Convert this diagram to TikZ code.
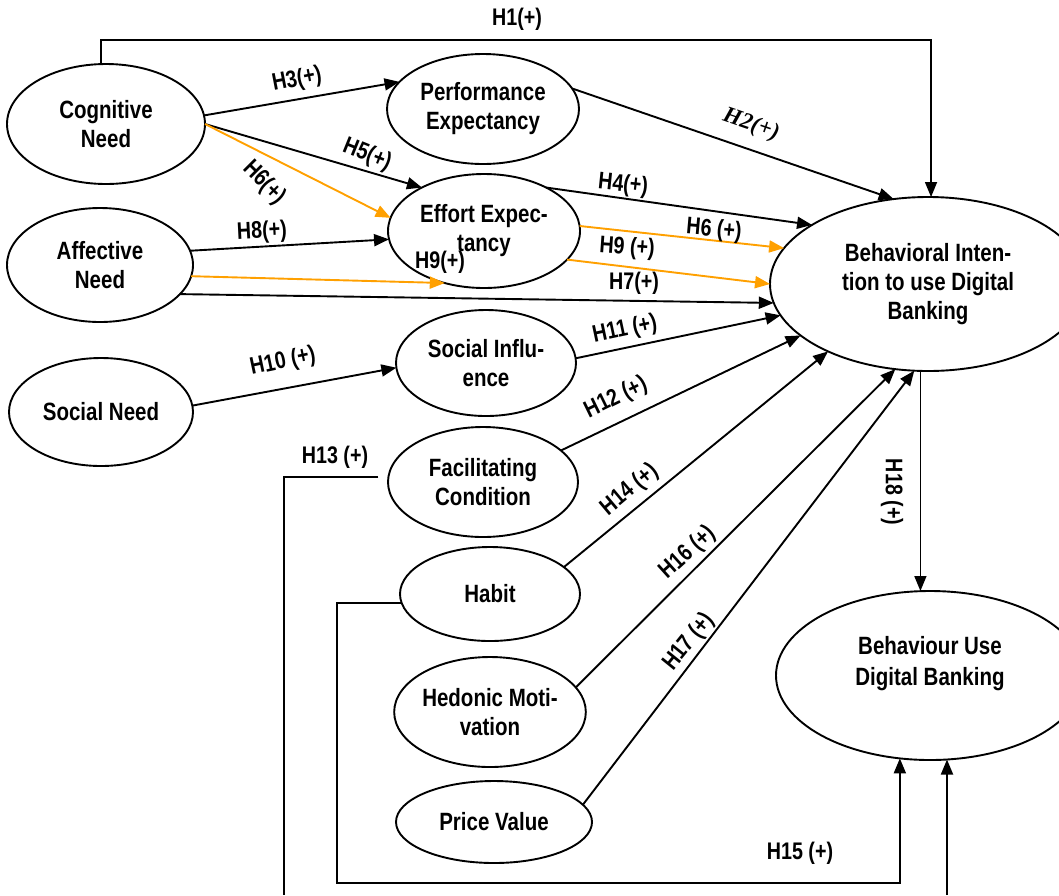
\documentclass[tikz,border=0pt]{standalone}
\usepackage{fontspec}
\setmainfont{Liberation Sans}[FakeStretch=0.82]
\newfontfamily\serifbi{Liberation Serif}
\usetikzlibrary{arrows.meta,shapes.geometric}
\definecolor{orng}{RGB}{255,160,0}
\tikzset{
  ell/.style={ellipse, draw, line width=1.9pt, inner sep=0pt, outer sep=0pt, align=center,
    font=\fontsize{25}{29}\selectfont\bfseries},
  txt/.style={inner sep=0pt, align=center, font=\fontsize{25}{31}\selectfont\bfseries},
  conn/.style={line width=1.9pt, -{Triangle[length=15pt,width=12pt]}},
  thinconn/.style={line width=1.5pt, -{Triangle[length=15pt,width=12pt]}},
  oconn/.style={conn, color=orng},
  plain/.style={line width=1.9pt},
  lab/.style={inner sep=0pt, font=\fontsize{24}{27}\selectfont\bfseries},
  labserif/.style={inner sep=0pt, font=\fontsize{23}{27}\selectfont\serifbi\bfseries\itshape},
}
\begin{document}
\begin{tikzpicture}[x=1pt,y=-1pt]
\useasboundingbox (0,0) rectangle (1059,895);

% nodes
\node[ell, minimum width=198pt, minimum height=120pt] (cn) at (106,124) {Cognitive\\Need};
\node[ell, minimum width=186pt, minimum height=114pt] (an) at (100,265) {Affective\\Need};
\node[ell, minimum width=184pt, minimum height=108pt] (sn) at (101,412) {Social Need};
\node[ell, minimum width=192pt, minimum height=110pt] (pe) at (483,109) {Performance\\Expectancy};
\node[ell, minimum width=192pt, minimum height=114pt] (ee) at (484,231) {Effort Expec-\\tancy};
\node[ell, minimum width=180pt, minimum height=106pt] (si) at (486,363) {Social Influ-\\ence};
\node[ell, minimum width=190pt, minimum height=110pt] (fc) at (483,482) {Facilitating\\Condition};
\node[ell, minimum width=180pt, minimum height=94pt] (hb) at (490,594) {Habit};
\node[ell, minimum width=190pt, minimum height=110pt] (hm) at (490,712) {Hedonic Moti-\\vation};
\node[ell, minimum width=196pt, minimum height=82pt] (pv) at (494,822) {Price Value};
\node[ell, minimum width=316pt, minimum height=174pt] (bi) at (928,284) {Behavioral Inten-\\tion to use Digital\\Banking};
\node[ell, minimum width=308pt, minimum height=169pt] (bu) at (930,675.5) {};
\node[txt] (butext) at (930,664) {Behaviour Use\\Digital Banking};

% free ends
\coordinate (h13c) at (284,895);
\coordinate (h15c) at (337,883);
\coordinate (buin) at (947,895);

% connectors
\draw[thinconn] (cn.95) -- ++(0,-24) -| (bi.88);
\draw[conn] (cn.5) -- (pe.162);
\draw[conn] (cn.0) -- (ee.145);
\draw[oconn] (cn.0) -- (ee.172);
\draw[conn] (pe.13) -- (bi.112);
\draw[conn] (an.9) -- (ee.185);
\draw[oconn] (an.-7) -- (ee.233);
\draw[conn] (an.-20) -- (bi.187);
\draw[conn] (ee.35) -- (bi.153);
\draw[oconn] (ee.3) -- (bi.166);
\draw[oconn] (ee.-19) -- (bi.180);
\draw[conn] (sn.4) -- (si.183);
\draw[conn] (si.3) -- (bi.192);
\draw[conn] (fc.22) -- (bi.202);
\draw[conn] (hb.20) -- (bi.214);
\draw[conn] (hm.16) -- (bi.249);
\draw[conn] (pv.11) -- (bi.261);
\draw[thinconn] (bi.265) -- (bi.265 |- bu.north);
\draw[plain] ([xshift=-10pt]fc.177) -| (h13c);
\draw[conn] (hb.186) -| (h15c) -| (bu.250);
\draw[conn] (buin) -- (buin |- bu.281);

% labels
\node[lab] (l1) at (517,19) {H1(+)};
\node[lab, rotate=11] (l3) at (297,80) {H3(+)};
\node[labserif, rotate=-19] (l2) at (751,125) {H2(+)};
\node[lab, rotate=-22] (l5) at (367,155) {H5(+)};
\node[lab, rotate=-45] (l6a) at (264,183) {H6(+)};
\node[lab, rotate=3] (l8) at (262,232) {H8(+)};
\node[lab] (l9a) at (440,262) {H9(+)};
\node[lab, rotate=-6] (l4) at (623,185) {H4(+)};
\node[lab, rotate=-5] (l6b) at (714,230) {H6 (+)};
\node[lab, rotate=-4] (l9b) at (627,248) {H9 (+)};
\node[lab] (l7) at (634,283) {H7(+)};
\node[lab, rotate=12] (l11) at (625,330) {H11 (+)};
\node[lab, rotate=26] (l12) at (616,398) {H12 (+)};
\node[lab, rotate=12] (l10) at (283,362) {H10 (+)};
\node[lab] (l13) at (335,457) {H13 (+)};
\node[lab, rotate=40] (l14) at (630,490) {H14 (+)};
\node[lab, rotate=42] (l16) at (688,553) {H16 (+)};
\node[lab, rotate=51] (l17) at (689,642) {H17 (+)};
\node[lab] (l15) at (800,853) {H15 (+)};
\node[lab, rotate=-90] (l18) at (892,492) {H18 (+)};
\end{tikzpicture}
\end{document}
